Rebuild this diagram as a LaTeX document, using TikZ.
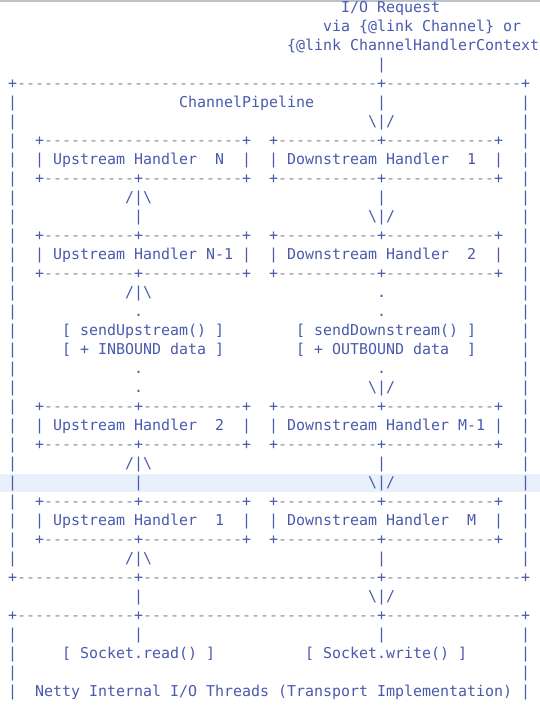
\documentclass[tikz,border=0pt]{standalone}
\usepackage{fontspec}
\usepackage{xcolor}
\newfontfamily\asc{DejaVu Sans Mono}[WordSpace={1,0,0}]
\definecolor{ink}{HTML}{4A5AAE}
\definecolor{dashc}{HTML}{8C8C96}
\definecolor{hilite}{HTML}{E8F0FC}
\definecolor{topbar}{HTML}{BAC2CA}
\ExplSyntaxOn
\NewDocumentCommand\Dsh{m}{\textcolor{dashc}{\prg_replicate:nn{#1}{-}}}
\NewDocumentCommand\Sp{m}{\prg_replicate:nn{#1}{\nobreakspace}}
\ExplSyntaxOff
\newcommand\bsl{\textbackslash}
\newcommand\boxedge{|\Sp{2}+\Dsh{10}+\Dsh{11}+\Sp{2}+\Dsh{11}+\Dsh{12}+\Sp{2}|}
\newcommand\uparrowrow{|\Sp{12}/|\bsl\Sp{25}|\Sp{15}|}
\newcommand\downarrowrow{|\Sp{13}|\Sp{25}\bsl|/\Sp{14}|}
\newcommand\dotrow{|\Sp{13}.\Sp{26}.\Sp{15}|}
\newcommand\outerrule{+\Dsh{13}+\Dsh{26}+\Dsh{15}+}
\begin{document}
\begin{tikzpicture}[x=1pt,y=-1pt,
  asciiline/.style={anchor=base west, inner sep=0pt, outer sep=0pt,
    font=\asc\fontsize{14.95}{19}\selectfont, text=ink}]
\useasboundingbox (0,0) rectangle (540,706);
\clip (0,0) rectangle (540,706);
\fill[white] (0,0) rectangle (540,706);
\fill[hilite] (0,474) rectangle (540,492);
\fill[topbar] (0,0) rectangle (540,2);
\node[asciiline] (l0)  at (8.2, 12.8) {\Sp{37}I/O~Request};
\node[asciiline] (l1)  at (8.2, 31.8) {\Sp{35}via~\{@link~Channel\}~or};
\node[asciiline] (l2)  at (8.2, 50.8) {\Sp{31}\{@link~ChannelHandlerContext};
\node[asciiline] (l3)  at (8.2, 69.8) {\Sp{41}|};
\node[asciiline] (l4)  at (8.2, 88.8) {+\Dsh{40}+\Dsh{15}+};
\node[asciiline] (l5)  at (8.2,107.8) {|\Sp{18}ChannelPipeline\Sp{7}|\Sp{15}|};
\node[asciiline] (l6)  at (8.2,126.8) {|\Sp{39}\bsl|/\Sp{14}|};
\node[asciiline] (l7)  at (8.2,145.8) {|\Sp{2}+\Dsh{22}+\Sp{2}+\Dsh{11}+\Dsh{12}+\Sp{2}|};
\node[asciiline] (l8)  at (8.2,164.8) {|\Sp{2}|~Upstream~Handler~~N~~|\Sp{2}|~Downstream~Handler~~1~~|\Sp{2}|};
\node[asciiline] (l9)  at (8.2,183.8) {\boxedge};
\node[asciiline] (l10) at (8.2,202.8) {\uparrowrow};
\node[asciiline] (l11) at (8.2,221.8) {\downarrowrow};
\node[asciiline] (l12) at (8.2,240.8) {\boxedge};
\node[asciiline] (l13) at (8.2,259.8) {|\Sp{2}|~Upstream~Handler~N-1~|\Sp{2}|~Downstream~Handler~~2~~|\Sp{2}|};
\node[asciiline] (l14) at (8.2,278.8) {\boxedge};
\node[asciiline] (l15) at (8.2,297.8) {|\Sp{12}/|\bsl\Sp{25}.\Sp{15}|};
\node[asciiline] (l16) at (8.2,316.8) {\dotrow};
\node[asciiline] (l17) at (8.2,335.8) {|\Sp{5}[~sendUpstream()~]\Sp{8}[~sendDownstream()~]\Sp{5}|};
\node[asciiline] (l18) at (8.2,354.8) {|\Sp{5}[~+~INBOUND~data~]\Sp{8}[~+~OUTBOUND~data~~]\Sp{5}|};
\node[asciiline] (l19) at (8.2,373.8) {\dotrow};
\node[asciiline] (l20) at (8.2,392.8) {|\Sp{13}.\Sp{25}\bsl|/\Sp{14}|};
\node[asciiline] (l21) at (8.2,411.8) {\boxedge};
\node[asciiline] (l22) at (8.2,430.8) {|\Sp{2}|~Upstream~Handler~~2~~|\Sp{2}|~Downstream~Handler~M-1~|\Sp{2}|};
\node[asciiline] (l23) at (8.2,449.8) {\boxedge};
\node[asciiline] (l24) at (8.2,468.8) {\uparrowrow};
\node[asciiline] (l25) at (8.2,487.8) {\downarrowrow};
\node[asciiline] (l26) at (8.2,506.8) {\boxedge};
\node[asciiline] (l27) at (8.2,525.8) {|\Sp{2}|~Upstream~Handler~~1~~|\Sp{2}|~Downstream~Handler~~M~~|\Sp{2}|};
\node[asciiline] (l28) at (8.2,544.8) {\boxedge};
\node[asciiline] (l29) at (8.2,563.8) {\uparrowrow};
\node[asciiline] (l30) at (8.2,582.8) {\outerrule};
\node[asciiline] (l31) at (8.2,601.8) {\Sp{14}|\Sp{25}\bsl|/};
\node[asciiline] (l32) at (8.2,620.8) {\outerrule};
\node[asciiline] (l33) at (8.2,639.8) {|\Sp{13}|\Sp{26}|\Sp{15}|};
\node[asciiline] (l34) at (8.2,658.8) {|\Sp{5}[~Socket.read()~]\Sp{10}[~Socket.write()~]\Sp{6}|};
\node[asciiline] (l35) at (8.2,677.8) {|\Sp{56}|};
\node[asciiline] (l36) at (8.2,696.8) {|~~Netty~Internal~I/O~Threads~(Transport~Implementation)~|};
\end{tikzpicture}
\end{document}
